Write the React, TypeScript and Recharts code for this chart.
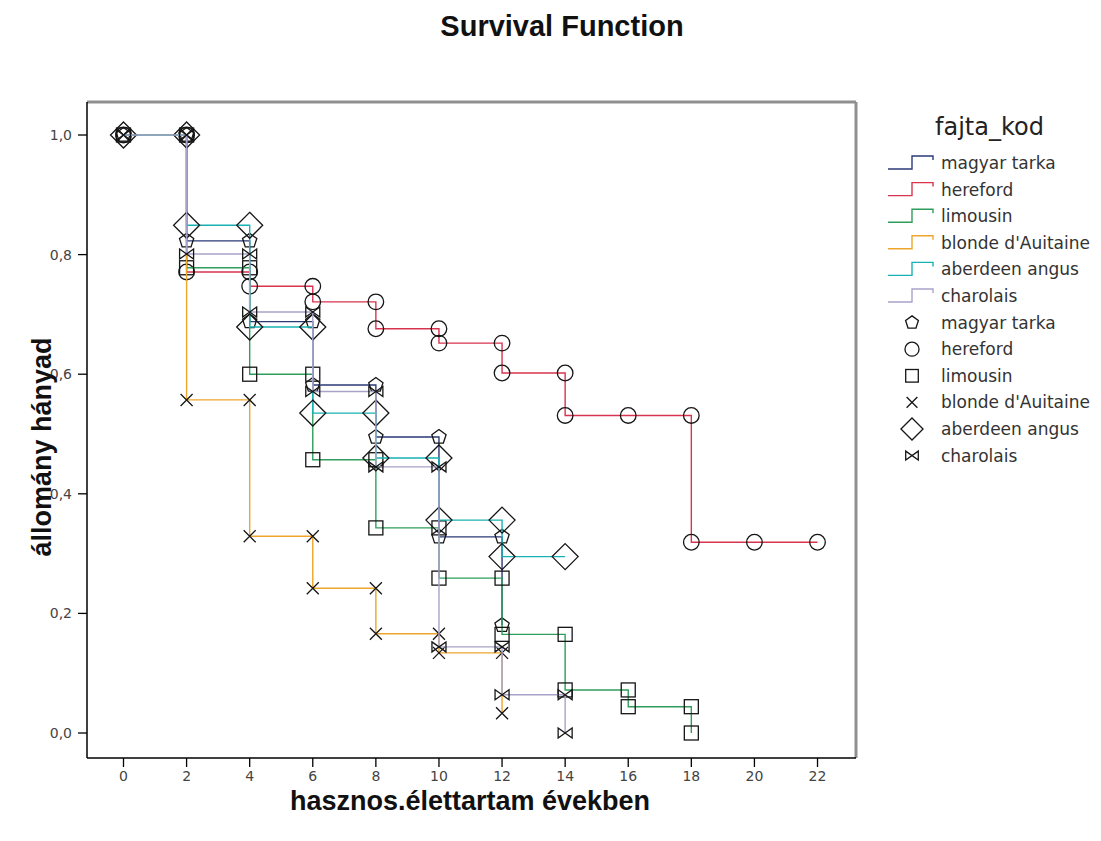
import React from "react";
import { ScatterChart, Scatter, XAxis, YAxis, ReferenceLine } from "recharts";

const breeds = ["magyar tarka", "hereford", "limousin", "blonde d'Auitaine", "aberdeen angus", "charolais"];
const lineColors = ["#2d3a78", "#d8344f", "#2f9e5c", "#eea52c", "#19b2b4", "#a9a2c9"];
const markerKinds = ["pentagon", "circle", "square", "cross", "diamond", "bowtie"];

// survival after each event time (Kaplan-Meier steps)
const magyarTarkaTime = [0, 2, 4, 6, 8, 10, 12];
const magyarTarkaSurv = [1, 0.823, 0.688, 0.582, 0.495, 0.328, 0.18];
const herefordTime = [0, 2, 4, 6, 8, 10, 12, 14, 16, 18, 20, 22];
const herefordSurv = [1, 0.771, 0.747, 0.721, 0.676, 0.652, 0.602, 0.531, 0.531, 0.319, 0.319, 0.319];
const limousinTime = [0, 2, 4, 6, 8, 10, 12, 14, 16, 18];
const limousinSurv = [1, 0.778, 0.6, 0.457, 0.343, 0.259, 0.165, 0.072, 0.044, 0];
const blondeTime = [0, 2, 4, 6, 8, 10, 12];
const blondeSurv = [1, 0.557, 0.329, 0.242, 0.166, 0.134, 0.033];
const aberdeenTime = [0, 2, 4, 6, 8, 10, 12, 14];
const aberdeenSurv = [1, 0.849, 0.679, 0.535, 0.46, 0.356, 0.295, 0.295];
const charolaisTime = [0, 2, 4, 6, 8, 10, 12, 14];
const charolaisSurv = [1, 0.801, 0.704, 0.571, 0.445, 0.144, 0.064, 0];

const xTicks = [0, 2, 4, 6, 8, 10, 12, 14, 16, 18, 20, 22];
const yTicks = [0, 0.2, 0.4, 0.6, 0.8, 1];

const xMin = -1.157;
const xMax = 23.22;
const yMin = -0.0418;
const yMax = 1.0552;

function buildSteps(times: number[], surv: number[]) {
  const pts: { x: number; y: number }[] = [];
  times.forEach((t, i) => {
    if (i > 0) pts.push({ x: t, y: surv[i - 1] });
    if (i === 0 || surv[i] !== surv[i - 1]) pts.push({ x: t, y: surv[i] });
  });
  return pts;
}

const series = [
  buildSteps(magyarTarkaTime, magyarTarkaSurv),
  buildSteps(herefordTime, herefordSurv),
  buildSteps(limousinTime, limousinSurv),
  buildSteps(blondeTime, blondeSurv),
  buildSteps(aberdeenTime, aberdeenSurv),
  buildSteps(charolaisTime, charolaisSurv),
];

function marker(kind: string, cx: number, cy: number, s = 1, key?: string) {
  const p = { fill: "none", stroke: "#151515", strokeWidth: 1.3 };
  switch (kind) {
    case "circle":
      return <circle key={key} cx={cx} cy={cy} r={7.8 * s} {...p} />;
    case "square":
      return <rect key={key} x={cx - 7 * s} y={cy - 7 * s} width={14 * s} height={14 * s} {...p} />;
    case "diamond": {
      const d = 13 * s;
      return <path key={key} d={`M${cx},${cy - d}L${cx + d},${cy}L${cx},${cy + d}L${cx - d},${cy}Z`} {...p} />;
    }
    case "cross": {
      const c = 6 * s;
      return <path key={key} d={`M${cx - c},${cy - c}L${cx + c},${cy + c}M${cx + c},${cy - c}L${cx - c},${cy + c}`} {...p} />;
    }
    case "bowtie": {
      const w = 7 * s;
      const h = 5 * s;
      return <path key={key} d={`M${cx - w},${cy - h}L${cx + w},${cy + h}L${cx + w},${cy - h}L${cx - w},${cy + h}Z`} {...p} />;
    }
    default: {
      const r = 7.5 * s;
      const pts = [0, 1, 2, 3, 4]
        .map((k) => {
          const a = ((-90 + 72 * k) * Math.PI) / 180;
          return `${cx + r * Math.cos(a)},${cy + r * Math.sin(a)}`;
        })
        .join(" ");
      return <polygon key={key} points={pts} {...p} />;
    }
  }
}

const axisFont = { fontSize: 14, fill: "#444", fontFamily: "DejaVu Sans" };
const legendFont = { fontFamily: "DejaVu Sans", fontSize: 17, fill: "#333" };

export default function App() {
  return (
    <div style={{ position: "relative", width: 1085, height: 833 }}>
      <ScatterChart width={1085} height={833} margin={{ top: 94, right: 237, bottom: 31, left: 0 }}>
        <XAxis
          type="number"
          dataKey="x"
          domain={[xMin, xMax]}
          ticks={xTicks}
          allowDataOverflow
          interval={0}
          height={52}
          tickSize={9}
          tickMargin={4}
          axisLine={{ stroke: "#000", strokeWidth: 1.5 }}
          tickLine={{ stroke: "#000", strokeWidth: 1.3 }}
          tick={axisFont}
        />
        <YAxis
          type="number"
          dataKey="y"
          domain={[yMin, yMax]}
          ticks={yTicks}
          allowDataOverflow
          width={79}
          tickSize={9}
          tickMargin={6}
          tickFormatter={(v: number) => v.toFixed(1).replace(".", ",")}
          axisLine={{ stroke: "#000", strokeWidth: 1.5 }}
          tickLine={{ stroke: "#000", strokeWidth: 1.3 }}
          tick={axisFont}
        />
        <ReferenceLine y={yMax} stroke="#8f8f8f" strokeWidth={3} />
        <ReferenceLine x={xMax} stroke="#8f8f8f" strokeWidth={3} />
        {series.map((data, i) => (
          <Scatter
            key={breeds[i]}
            name={breeds[i]}
            data={data}
            line={{ stroke: lineColors[i], strokeWidth: 1.4 }}
            shape={(props: any) => marker(markerKinds[i], props.cx, props.cy)}
            isAnimationActive={false}
          />
        ))}
      </ScatterChart>
      <svg
        width={1093}
        height={833}
        style={{ position: "absolute", left: 0, top: 0, pointerEvents: "none", overflow: "visible" }}
      >
        <text x={554} y={28} textAnchor="middle" fontFamily="Liberation Sans" fontWeight="bold" fontSize={29} fill="#111">
          Survival Function
        </text>
        <text
          x={34}
          y={439}
          transform="rotate(-90, 34, 439)"
          textAnchor="middle"
          dominantBaseline="central"
          fontFamily="Liberation Sans"
          fontWeight="bold"
          fontSize={27}
          fill="#111"
        >
          állomány hányad
        </text>
        <text x={462} y={793} textAnchor="middle" dominantBaseline="central" fontFamily="Liberation Sans" fontWeight="bold" fontSize={27} fill="#111">
          hasznos.élettartam években
        </text>
        <text x={927} y={127} fontFamily="DejaVu Sans" fontSize={24} fill="#222">
          fajta_kod
        </text>
        {breeds.map((b, i) => {
          const cy = 155 + 26.6 * i;
          return (
            <g key={"l" + b}>
              <path
                d={`M880,${cy + 6}H904V${cy - 7}H925V${cy - 3}`}
                fill="none"
                stroke={lineColors[i]}
                strokeWidth={1.4}
              />
              <text x={933} y={cy} dominantBaseline="central" {...legendFont}>
                {b}
              </text>
            </g>
          );
        })}
        {breeds.map((b, i) => {
          const cy = 155 + 26.6 * (i + 6);
          return (
            <g key={"m" + b}>
              {marker(markerKinds[i], 904, cy, markerKinds[i] === "diamond" ? 0.85 : 0.9)}
              <text x={933} y={cy} dominantBaseline="central" {...legendFont}>
                {b}
              </text>
            </g>
          );
        })}
      </svg>
    </div>
  );
}
